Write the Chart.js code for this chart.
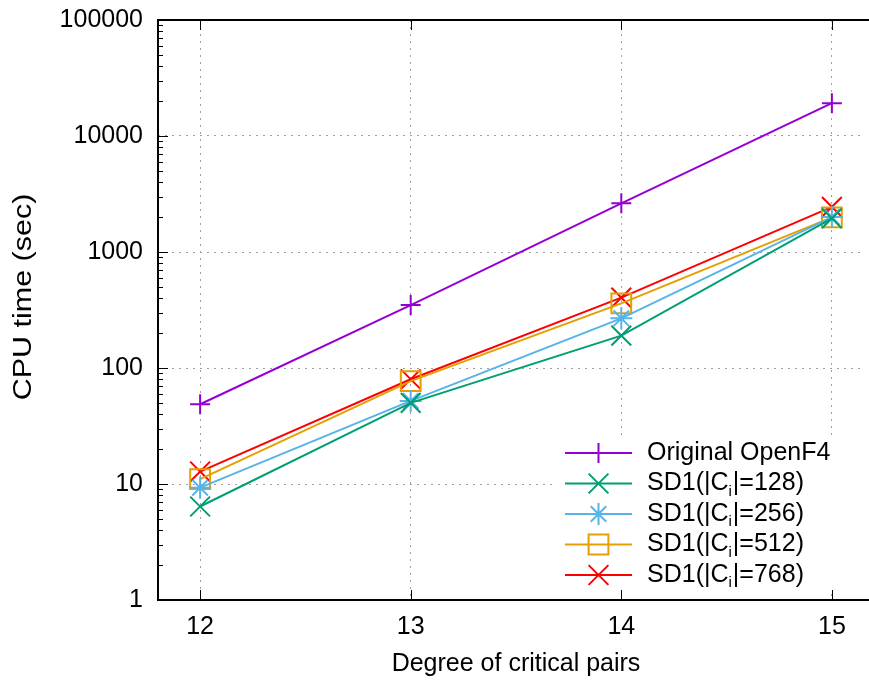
<!DOCTYPE html>
<html>
<head>
<meta charset="utf-8">
<script src="https://cdn.jsdelivr.net/npm/chart.js@4.4.1/dist/chart.umd.min.js"></script>
<style>
html, body { margin: 0; padding: 0; background: #fff; overflow: hidden; }
#cpuChart { display: block; }
</style>
</head>
<body>
<canvas id="cpuChart" width="880" height="682"></canvas>
<script>
// degree of critical pairs vs CPU time (log scale)
const degrees = [12, 13, 14, 15];
const yTicks = [1, 10, 100, 1000, 10000, 100000];

const openF4 = [48.7, 349, 2630, 19200];
const sd128 = [6.4, 50, 190, 1950];
const sd256 = [9.3, 52, 268, 2000];
const sd512 = [11.0, 77, 361, 1990];
const sd768 = [12.8, 80, 404, 2450];

const seriesLabels = ['Original OpenF4', 'SD1(|C_i|=128)', 'SD1(|C_i|=256)', 'SD1(|C_i|=512)', 'SD1(|C_i|=768)'];
const seriesColors = ['#9400d3', '#009e73', '#56b4e9', '#e69f00', '#ff0000'];
const seriesMarks = ['cross', 'crossRot', 'star', 'rect', 'crossRot'];
const markRadius = [10, 14, 11, 14, 14];

const FONT = '"Liberation Sans", Arial, Helvetica, sans-serif';
Chart.defaults.font.family = FONT;
Chart.defaults.color = '#000';

function makeSet(i, values) {
    return {
        label: seriesLabels[i],
        data: degrees.map((d, k) => ({ x: d, y: values[k] })),
        borderColor: seriesColors[i],
        backgroundColor: 'rgba(0,0,0,0)',
        borderWidth: 2,
        pointStyle: seriesMarks[i],
        pointRadius: markRadius[i],
        pointBorderWidth: 2,
        pointBorderColor: seriesColors[i],
        pointBackgroundColor: 'rgba(0,0,0,0)',
        tension: 0
    };
}

const datasets = [openF4, sd128, sd256, sd512, sd768].map((v, i) => makeSet(i, v));

// only draw grid lines on the wanted tick values
const gridColor = list => c => (c.tick && list.includes(c.tick.value)) ? '#a0a0a0' : 'rgba(0,0,0,0)';

// legend box, frame, inward ticks, y title (gnuplot look)
const gnuplotLook = {
    id: 'gnuplotLook',
    afterDraw(chart) {
        const ctx = chart.ctx;
        const a = chart.chartArea;
        const x = chart.scales.x, y = chart.scales.y;
        ctx.save();
        ctx.setLineDash([]);

        // the plot's right edge lies past the picture edge
        ctx.fillStyle = '#fff';
        ctx.fillRect(864, a.top, 20, a.bottom - a.top);

        // legend
        ctx.fillRect(555, 438, 330, 156);
        const rowY = [453, 483.5, 514, 544.5, 575];
        chart.data.datasets.forEach((ds, i) => {
            const ry = rowY[i];
            ctx.strokeStyle = ds.borderColor;
            ctx.lineWidth = 2;
            ctx.beginPath();
            ctx.moveTo(565, ry); ctx.lineTo(632, ry);
            ctx.stroke();
            ctx.fillStyle = 'rgba(0,0,0,0)';
            Chart.helpers.drawPoint(ctx, { pointStyle: ds.pointStyle, rotation: 0, radius: ds.pointRadius, borderWidth: 2 }, 598.5, ry);

            ctx.fillStyle = '#000';
            ctx.textBaseline = 'middle';
            ctx.textAlign = 'left';
            const parts = ds.label.split('_i');
            let tx = 647;
            ctx.font = '25px ' + FONT;
            ctx.fillText(parts[0], tx, ry);
            if (parts.length > 1) {
                tx += ctx.measureText(parts[0]).width;
                ctx.font = '15px ' + FONT;
                ctx.fillText('i', tx, ry + 8);
                tx += ctx.measureText('i').width + 1;
                ctx.font = '25px ' + FONT;
                ctx.fillText(parts[1], tx, ry);
            }
        });

        ctx.strokeStyle = '#000';
        ctx.lineWidth = 1;
        ctx.beginPath();
        degrees.forEach(d => {
            const px = Math.round(x.getPixelForValue(d)) + 0.5;
            ctx.moveTo(px, a.bottom); ctx.lineTo(px, a.bottom - 10);
            ctx.moveTo(px, a.top); ctx.lineTo(px, a.top + 10);
        });
        for (let dec = 1; dec < 100000; dec *= 10) {
            for (let m = 1; m < 10; m++) {
                const py = Math.round(y.getPixelForValue(dec * m)) + 0.5;
                const len = m === 1 ? 10 : 5;
                ctx.moveTo(a.left, py); ctx.lineTo(a.left + len, py);
            }
        }
        ctx.stroke();

        // frame: left, top and bottom
        ctx.lineWidth = 2;
        ctx.beginPath();
        ctx.moveTo(chart.width, a.top); ctx.lineTo(a.left, a.top);
        ctx.lineTo(a.left, a.bottom); ctx.lineTo(chart.width, a.bottom);
        ctx.stroke();

        // y axis title, stretched along its length like the original
        ctx.save();
        ctx.translate(24, 297);
        ctx.rotate(-Math.PI / 2);
        ctx.scale(1.22, 1);
        ctx.font = '25px ' + FONT;
        ctx.fillStyle = '#000';
        ctx.textAlign = 'center';
        ctx.textBaseline = 'middle';
        ctx.fillText('CPU time (sec)', 0, 0);
        ctx.restore();

        ctx.restore();
    }
};

new Chart(document.getElementById('cpuChart'), {
    type: 'line',
    data: { datasets: datasets },
    options: {
        responsive: false,
        animation: false,
        layout: { autoPadding: false, padding: { top: 20, right: 6, left: 0, bottom: 0 } },
        plugins: { legend: { display: false }, tooltip: { enabled: false } },
        scales: {
            x: {
                type: 'linear',
                min: 11.8,
                max: 15.2,
                afterBuildTicks: axis => { axis.ticks = degrees.map(v => ({ value: v })); },
                afterFit: axis => { axis.height = 82; axis.paddingLeft = 0; axis.paddingRight = 0; },
                grid: { color: gridColor(degrees), lineWidth: 1, drawTicks: false },
                border: { display: false, dash: [2, 5] },
                ticks: { font: { size: 25 }, padding: 12, maxRotation: 0 },
                title: { display: true, text: 'Degree of critical pairs', font: { size: 25 }, padding: { top: 0, bottom: 3 } }
            },
            y: {
                type: 'logarithmic',
                min: 1,
                max: 100000,
                afterBuildTicks: axis => { axis.ticks = yTicks.map(v => ({ value: v })); },
                afterFit: axis => { axis.width = 158; axis.paddingTop = 0; axis.paddingBottom = 0; },
                grid: { color: gridColor(yTicks), lineWidth: 1, drawTicks: false },
                border: { display: false, dash: [2, 5] },
                ticks: { font: { size: 25 }, padding: 15, callback: v => String(v) }
            }
        }
    },
    plugins: [gnuplotLook]
});
</script>
</body>
</html>
